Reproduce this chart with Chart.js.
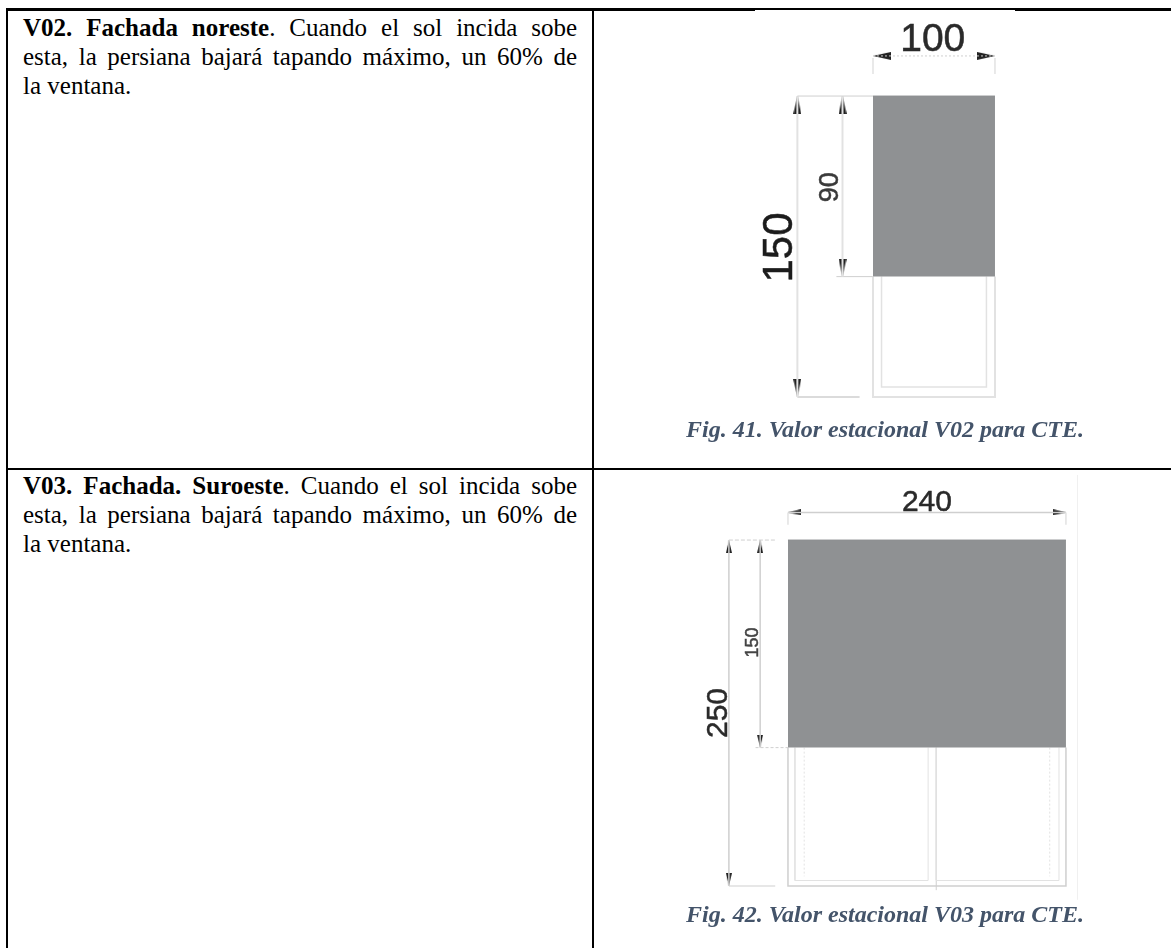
<!DOCTYPE html>
<html lang="es">
<head>
<meta charset="utf-8">
<title>Valor estacional V02 y V03</title>
<script src="https://cdn.jsdelivr.net/npm/chart.js@4"></script>
<style>
  html, body { margin: 0; padding: 0; background: #fff; }
  body { width: 1171px; height: 948px; position: relative; overflow: hidden; }
  .rule { position: absolute; background: #000; }
  .copy {
    position: absolute; left: 23px; width: 554px; margin: 0;
    font: 25px/29px "Liberation Serif", serif; color: #000;
  }
  .copy span { display: block; text-align: justify; text-align-last: justify; }
  .copy span:last-child { text-align-last: left; }
  .caption {
    position: absolute; left: 595px; width: 580px; margin: 0; text-align: center;
    font: italic bold 24px/28px "Liberation Serif", serif; color: #44546a; white-space: nowrap;
  }
  canvas { position: absolute; filter: blur(0.45px); }
</style>
</head>
<body>
  <canvas id="v02-drawing" width="576" height="457" style="left:595px;top:11px"></canvas>
  <canvas id="v03-drawing" width="576" height="477" style="left:595px;top:471px"></canvas>

  <div class="rule" style="left:6px;top:8px;width:749px;height:3px"></div>
  <div class="rule" style="left:755px;top:8px;width:260px;height:2px"></div>
  <div class="rule" style="left:1015px;top:8px;width:156px;height:3px"></div>
  <div class="rule" style="left:6px;top:468px;width:1165px;height:2px"></div>
  <div class="rule" style="left:6px;top:8px;width:2px;height:940px"></div>
  <div class="rule" style="left:592px;top:8px;width:2px;height:940px"></div>

  <p class="copy" style="top:13px"><span><b>V02. Fachada noreste</b>. Cuando el sol incida sobe</span><span>esta, la persiana bajará tapando máximo, un 60% de</span><span>la ventana.</span></p>
  <p class="copy" style="top:471px"><span><b>V03. Fachada. Suroeste</b>. Cuando el sol incida sobe</span><span>esta, la persiana bajará tapando máximo, un 60% de</span><span>la ventana.</span></p>
  <p class="caption" style="top:415px">Fig. 41. Valor estacional V02 para CTE.</p>
  <p class="caption" style="top:900px">Fig. 42. Valor estacional V03 para CTE.</p>

<script>
// window sizes in cm, as written on the drawings
const v02Width = [100];
const v02Height = [150];
const v02Shaded = [90];
const v03Width = [240];
const v03Height = [250];
const v03Shaded = [150];

const SHADE = "#8f9193";
const LINE = "#cfcfcf";
const FRAME = "#e2e2e2";

const makeArrow = (length, width) => {
  // tip sits in the middle of the image so the point value is the tip
  const c = document.createElement("canvas");
  c.width = width;
  c.height = length * 2;
  const g = c.getContext("2d");
  g.fillStyle = "#222";
  g.beginPath();
  g.moveTo(width / 2, length);
  g.lineTo(width, length * 2);
  g.lineTo(0, length * 2);
  g.closePath();
  g.fill();
  return c;
};

const line = (points, color, width, dash) => ({
  data: points.map(([x, y]) => ({ x, y })),
  borderColor: color,
  borderWidth: width,
  borderDash: dash || [],
  pointRadius: 0,
  fill: false,
});

const arrows = (points, rotations, img) => ({
  data: points.map(([x, y]) => ({ x, y })),
  showLine: false,
  pointStyle: img,
  pointRotation: rotations,
  pointRadius: 6,
});

// prints the dimension figures at their place on the drawing
const dimensionLabels = {
  id: "dimensionLabels",
  afterDatasetsDraw(chart, args, opts) {
    const { ctx, scales } = chart;
    opts.items.forEach((it) => {
      ctx.save();
      ctx.translate(scales.x.getPixelForValue(it.x), scales.y.getPixelForValue(it.y));
      if (it.vertical) ctx.rotate(-Math.PI / 2);
      ctx.font = it.size + 'px "Liberation Sans", sans-serif';
      ctx.fillStyle = it.color;
      ctx.strokeStyle = it.color;
      ctx.lineWidth = 0.5;
      ctx.textAlign = "center";
      ctx.textBaseline = "middle";
      ctx.fillText(it.text, 0, 0);
      ctx.strokeText(it.text, 0, 0);
      ctx.restore();
    });
  },
};

const drawWindow = (id, xRange, yRange, datasets, items) =>
  new Chart(document.getElementById(id), {
    type: "line",
    data: { datasets },
    options: {
      responsive: false,
      animation: false,
      layout: { padding: 0, autoPadding: false },
      scales: {
        x: { type: "linear", display: false, min: xRange[0], max: xRange[1] },
        y: { type: "linear", display: false, min: yRange[0], max: yRange[1] },
      },
      plugins: {
        legend: { display: false },
        tooltip: { enabled: false },
        dimensionLabels: { items },
      },
    },
    plugins: [dimensionLabels],
  });

const drawV02 = () => {
  const w = v02Width[0];
  const h = v02Height[0];
  const open = h - v02Shaded[0];
  const bigArrow = makeArrow(18, 8);
  const shade = line([[0, h], [w, h]], SHADE, 1);
  shade.fill = { value: open };
  shade.backgroundColor = SHADE;

  drawWindow("v02-drawing", [-227.9, 244.3], [-35.4, 192.4], [
    shade,
    line([[0, open], [0, 0], [w, 0], [w, open]], FRAME, 2),
    line([[7, open], [7, 5], [93, 5], [93, open]], FRAME, 1.5),
    line([[0, h + 11], [0, h + 19]], FRAME, 1.5),
    line([[w, h + 11], [w, h + 19]], FRAME, 1.5),
    line([[0, h + 20], [w, h + 20]], LINE, 1, [2, 2]),
    line([[-62, h], [0, h]], LINE, 1),
    line([[-62, 0], [-62, h]], FRAME, 2),
    line([[-25, open], [-25, h]], FRAME, 2),
    line([[-30, open], [0, open]], LINE, 1),
    line([[-62, 0], [-11, 0]], LINE, 1.5),
    arrows(
      [[0, h + 20], [w, h + 20], [-62, h], [-25, h], [-62, 0], [-25, open]],
      [270, 90, 0, 0, 180, 180],
      bigArrow
    ),
  ], [
    { text: String(w), x: 49, y: h + 28, size: 39, color: "#2a2a2a" },
    { text: String(v02Shaded[0]), x: -35, y: 104.5, size: 27, color: "#3a3a3a", vertical: true },
    { text: String(h), x: -76, y: 74.5, size: 42, color: "#1c1c1c", vertical: true },
  ]);
};

const drawV03 = () => {
  const w = v03Width[0];
  const h = v03Height[0];
  const open = h - v03Shaded[0];
  const smallArrow = makeArrow(13, 6);
  const shade = line([[0, h], [w, h]], SHADE, 1);
  shade.fill = { value: open };
  shade.backgroundColor = SHADE;

  drawWindow("v03-drawing", [-166.6, 330.7], [-44.8, 299.9], [
    shade,
    line([[0, open], [0, 0], [w, 0], [w, open]], LINE, 1.5),
    line([[6, open], [6, 4], [121, 4], [121, open]], FRAME, 1),
    line([[128, open], [128, 4], [234, 4], [234, open]], FRAME, 1),
    line([[14, open], [14, 7]], FRAME, 1, [2, 2]),
    line([[226, open], [226, 7]], FRAME, 1, [2, 2]),
    line([[128, -3], [128, open]], LINE, 1),
    line([[0, h + 11], [0, h + 20]], FRAME, 1.5),
    line([[w, h + 11], [w, h + 20]], FRAME, 1.5),
    line([[0, h + 20], [w, h + 20]], LINE, 1.5),
    line([[-51, h], [-11, h]], LINE, 1, [4, 2]),
    line([[-51, 0], [-51, h]], LINE, 1.5),
    line([[-24, open], [-24, h]], LINE, 1.5),
    line([[-28, open], [0, open]], LINE, 1, [3, 2]),
    line([[-51, 0], [-11, 0]], LINE, 1),
    line([[250, -10], [250, 297]], "#f0f0f0", 1),
    arrows(
      [[0, h + 20], [w, h + 20], [-51, h], [-24, h], [-51, 0], [-24, open]],
      [270, 90, 0, 0, 180, 180],
      smallArrow
    ),
  ], [
    { text: String(w), x: 120, y: h + 27, size: 30, color: "#2a2a2a" },
    { text: String(v03Shaded[0]), x: -30, y: 176, size: 18, color: "#444", vertical: true },
    { text: String(h), x: -60, y: 125, size: 30, color: "#2a2a2a", vertical: true },
  ]);
};

drawV02();
drawV03();
</script>
</body>
</html>
